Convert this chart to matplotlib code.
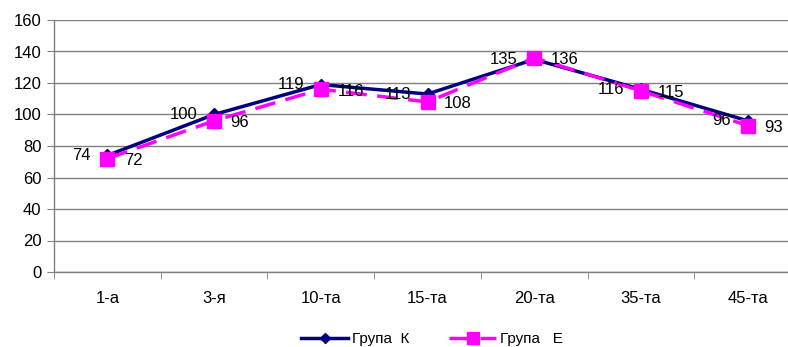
import matplotlib
matplotlib.use("Agg")
import matplotlib.pyplot as plt
import numpy as np

categories = ["1-а", "3-я", "10-та", "15-та", "20-та", "35-та", "45-та"]
group_k = [74, 100, 119, 113, 135, 116, 96]
group_e = [72, 96, 116, 108, 136, 115, 93]
y_ticks = [0, 20, 40, 60, 80, 100, 120, 140, 160]

plt.rcParams['font.family'] = ['Liberation Sans', 'DejaVu Sans']

fig = plt.figure(figsize=(7.88, 3.47), dpi=100)
W, H = 788, 347
left, right, top, bottom = 54, 801, 20, 272
ax = fig.add_axes([left / W, 1 - bottom / H, (right - left) / W, (bottom - top) / H])

x = np.arange(len(categories))
ax.plot(x, group_k, color='#000080', lw=2.5, marker='D', ms=6.5, label='Група  К', zorder=3)
ax.plot(x, group_e, color='#FF00FF', lw=2.5, ls=(0, (6, 3)), marker='s', ms=10,
        label='Група   Е', zorder=4)

for xi, v in zip(x, group_k):
    ax.annotate(str(v), (xi, v), xytext=(-12, 0), textcoords='offset points',
                ha='right', va='center', fontsize=12, color='black', zorder=5)
for xi, v in zip(x, group_e):
    ax.annotate(str(v), (xi, v), xytext=(12, -1.5), textcoords='offset points',
                ha='left', va='center', fontsize=12, color='black', zorder=5)

ax.set_xlim(-0.5, len(categories) - 0.5)
ax.set_ylim(0, 160)
ax.set_yticks(y_ticks)
ax.set_yticklabels([str(t) for t in y_ticks], fontsize=12)
ax.set_xticks(x)
ax.set_xticklabels(categories, fontsize=12)
ax.tick_params(axis='x', length=0, pad=14)
ax.set_xticks(np.arange(-0.5, len(categories), 1), minor=True)
ax.tick_params(axis='x', which='minor', length=5, color='#808080', direction='out')
ax.tick_params(axis='y', length=5, color='#808080', direction='out', pad=4)
ax.yaxis.grid(True, color='#808080', lw=1)
ax.set_axisbelow(True)
for s in ['top', 'right']:
    ax.spines[s].set_visible(False)
for s in ['left', 'bottom']:
    ax.spines[s].set_color('#808080')
    ax.spines[s].set_linewidth(1)

leg = fig.legend(loc='center', bbox_to_anchor=(432 / W, 1 - 339 / H), ncol=2,
                 frameon=False, fontsize=11, handlelength=3.1, columnspacing=2.6,
                 handletextpad=0.25)
leg.legend_handles[0].set_markersize(5)
leg.legend_handles[1].set_markersize(8)

fig.savefig('out.png', dpi=100)
